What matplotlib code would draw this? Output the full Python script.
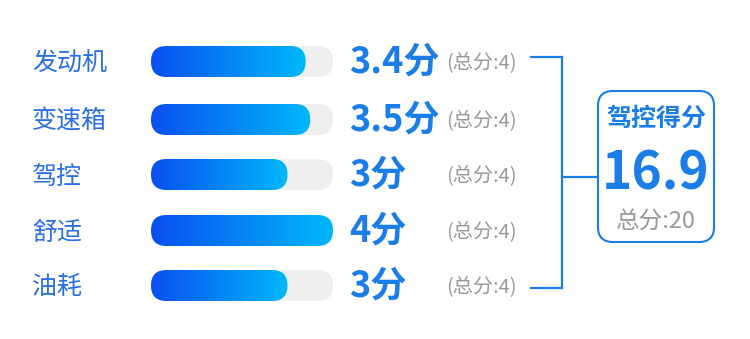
import numpy as np
import matplotlib.pyplot as plt
from matplotlib.patches import FancyBboxPatch
from matplotlib.colors import LinearSegmentedColormap

plt.rcParams['font.family'] = ['Noto Sans CJK SC', 'DejaVu Sans']

# Data
categories = ['发动机', '变速箱', '驾控', '舒适', '油耗']
scores = [3.4, 3.5, 3, 4, 3]
totals = [4, 4, 4, 4, 4]
summary_title = '驾控得分'
summary_total = 20

blue = '#1a7de8'
label_blue = '#2a6fe6'
gray = '#9a9a9a'
grad = LinearSegmentedColormap.from_list('g', ['#0a4ff0', '#00b8fa'])

fig = plt.figure(figsize=(7.5, 3.39), dpi=100)
ax = fig.add_axes([0, 0, 1, 1])
ax.axis('off')

row_y = [61.5, 119.5, 174.5, 230.5, 285.5]
x0, track_w, bar_h = 151, 182, 31

for cat, s, t, y in zip(categories, scores, totals, row_y):
    ax.text(32, y + 2, cat, fontsize=18, color=label_blue, va='center', ha='left')
    track = FancyBboxPatch((x0, y - bar_h / 2), track_w, bar_h,
                           boxstyle='round,pad=0,rounding_size=15.5',
                           fc='#efefef', ec='none', zorder=1)
    ax.add_patch(track)
    w = track_w * s / t
    clip = FancyBboxPatch((x0, y - bar_h / 2), w, bar_h,
                          boxstyle='round,pad=0,rounding_size=15.5',
                          fc='none', ec='none')
    ax.add_patch(clip)
    im = ax.imshow(np.linspace(0, 1, 256).reshape(1, -1), cmap=grad,
                   extent=[x0, x0 + w, y + bar_h / 2, y - bar_h / 2],
                   aspect='auto', interpolation='bilinear', zorder=2)
    im.set_clip_path(clip)
    label = f'{s:g}分'
    ax.text(349, y + 1, label, fontsize=26, fontweight='bold', color=blue,
            va='center', ha='left')
    ax.text(446, y + 1.5, f'(总分:{t})', fontsize=14.5, color=gray,
            va='center', ha='left')

# bracket
lw = 1.6
ax.plot([531, 562, 562, 531], [57, 57, 288, 288], color=blue, lw=lw,
        solid_joinstyle='miter')
ax.plot([562, 598], [177, 177], color=blue, lw=lw)

# summary box
box = FancyBboxPatch((598, 91), 116, 151,
                     boxstyle='round,pad=0,rounding_size=15',
                     fc='white', ec=blue, lw=1.5)
ax.add_patch(box)
ax.text(656, 119, summary_title, fontsize=18, fontweight='bold', color=blue,
        ha='center', va='center')
ax.text(656, 174, f'{sum(scores):.1f}', fontsize=37, fontweight='bold',
        color=blue, ha='center', va='center')
ax.text(656, 222, f'总分:{summary_total}', fontsize=17, color=gray,
        ha='center', va='center')

ax.set_xlim(0, 750)
ax.set_ylim(339, 0)
fig.savefig('out.png', dpi=100)
